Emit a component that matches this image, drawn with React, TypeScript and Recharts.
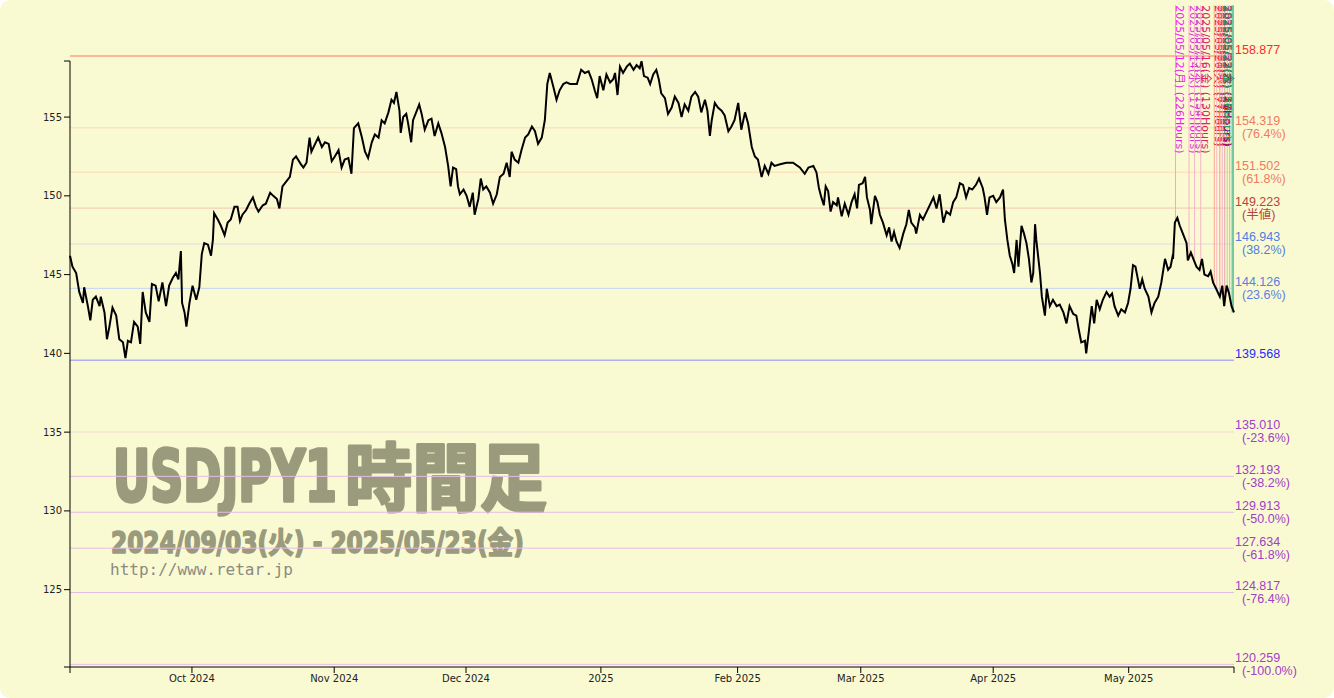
import { Line, LineChart, ReferenceLine, XAxis, YAxis } from "recharts";

type Pt = [number, number];

// USDJPY hourly closes: [trading-day index from 2024/09/03, price]
const sepOct: Pt[] = [
  [0, 146.2], [0.4, 145.5], [1.0, 145.1], [1.5, 143.9], [2.1, 143.2], [2.3, 144.2], [2.9, 143.0], [3.3, 142.1],
  [3.7, 143.4], [4.2, 143.6], [4.8, 143.0], [5.0, 143.6], [5.6, 142.6], [6.0, 140.9], [6.4, 141.7], [6.9, 142.9],
  [7.5, 142.4], [8.0, 140.9], [8.6, 140.7], [9.0, 139.7], [9.4, 140.8], [9.9, 140.7], [10.4, 142.0], [11.0, 141.7],
  [11.4, 140.6], [11.8, 143.9], [12.3, 142.6], [12.9, 142.0], [13.3, 144.4], [13.9, 144.3], [14.4, 143.3], [15.0, 144.5],
  [15.6, 143.0], [16.1, 144.3], [16.7, 144.8], [17.2, 145.1], [17.6, 144.7], [18.0, 146.5], [18.2, 143.2], [18.6, 142.6],
  [18.9, 141.7], [19.4, 143.2], [19.9, 144.3], [20.5, 143.4], [21.0, 144.2], [21.4, 146.3], [21.8, 147.0], [22.4, 146.9],
  [22.9, 146.2], [23.2, 147.2], [23.4, 148.9], [24.0, 148.5], [24.5, 148.1], [25.1, 147.5], [25.6, 148.3], [26.1, 148.5],
  [26.7, 149.3], [27.2, 149.3], [27.6, 148.4], [28.0, 148.8], [28.6, 149.1], [29.1, 149.5], [29.7, 149.9], [30.2, 149.3],
  [30.6, 149.0], [31.3, 149.4], [31.8, 149.5], [32.5, 150.2], [33.0, 150.0], [33.6, 149.8], [34.0, 149.2], [34.5, 150.6],
  [35.1, 150.9], [35.7, 151.2], [36.2, 152.3], [36.7, 152.5], [37.5, 152.0],
];

const novDec: Pt[] = [
  [37.9, 151.8], [38.4, 152.1], [38.9, 153.7], [39.2, 152.8], [39.8, 153.3], [40.3, 153.7], [40.9, 153.1], [41.4, 153.4],
  [42.0, 153.3], [42.5, 152.2], [43.0, 152.5], [43.6, 152.9], [44.1, 151.8], [44.6, 152.3], [45.2, 152.4], [45.7, 151.4],
  [46.1, 154.3], [46.8, 154.6], [47.4, 153.7], [47.9, 152.8], [48.4, 152.4], [49.0, 153.4], [49.5, 153.9], [50.1, 153.7],
  [50.6, 154.8], [51.1, 154.6], [51.7, 155.3], [52.2, 156.1], [52.6, 155.9], [53.0, 156.6], [53.5, 155.4], [53.7, 154.0],
  [54.1, 155.0], [54.6, 155.2], [54.9, 154.6], [55.4, 153.4], [55.7, 154.8], [56.3, 155.4], [56.7, 155.8], [57.1, 155.2],
  [57.6, 154.2], [58.2, 154.8], [58.7, 154.9], [59.2, 153.8], [59.8, 154.6], [60.3, 154.0], [60.9, 153.1], [61.4, 151.9],
  [61.8, 150.6], [62.2, 151.8], [62.7, 151.7], [63.0, 150.6], [63.3, 150.1], [63.9, 150.4], [64.4, 150.0], [64.9, 149.3],
  [65.4, 150.2], [65.7, 148.8], [66.3, 149.8], [66.7, 151.1], [67.1, 150.4], [67.6, 150.6], [68.2, 150.2], [68.7, 149.5],
  [69.3, 150.1], [69.8, 151.2], [70.4, 151.4], [70.9, 152.1], [71.4, 151.2], [71.7, 152.8], [72.2, 152.3], [72.8, 152.1],
  [73.3, 152.9], [73.9, 153.7], [74.4, 153.9], [75.0, 154.4], [75.5, 154.1],
];

const decJan: Pt[] = [
  [76.0, 153.3], [76.6, 153.7], [77.1, 154.8], [77.5, 157.1], [77.9, 157.8], [78.5, 156.9], [79.0, 156.1], [79.5, 156.7],
  [80.1, 157.1], [80.6, 157.2], [81.2, 157.1], [81.7, 157.1], [82.3, 157.1], [83.0, 158.0], [83.6, 157.8], [84.2, 157.9],
  [84.7, 157.4], [85.2, 156.7], [85.6, 156.2], [86.0, 157.6], [86.6, 156.7], [87.1, 157.7], [87.7, 157.2], [88.2, 157.4],
  [88.5, 157.8], [88.9, 156.4], [89.3, 158.2], [89.8, 157.8], [90.4, 158.2], [90.9, 158.4], [91.5, 158.0], [92.0, 158.3],
  [92.5, 158.1], [92.8, 158.55], [93.2, 157.6], [93.8, 157.5], [94.2, 157.1], [94.7, 157.7], [95.2, 158.0], [95.6, 157.4],
  [96.0, 156.5], [96.6, 156.2], [97.1, 155.2], [97.7, 155.6], [98.2, 156.3], [98.8, 155.9], [99.3, 155.0], [99.8, 155.8],
  [100.4, 155.4], [100.9, 156.3], [101.5, 156.6], [102.0, 156.3], [102.5, 155.3], [103.1, 156.1], [103.5, 155.4], [103.9, 153.8],
  [104.2, 154.8], [104.7, 155.9], [105.2, 155.6], [105.8, 155.4], [106.3, 155.1], [106.9, 154.1], [107.4, 154.4], [107.9, 154.8],
  [108.5, 155.9], [109.0, 154.2], [109.6, 155.3], [110.1, 154.6], [110.7, 153.1], [111.2, 152.5], [111.7, 152.3], [112.3, 151.2],
  [112.8, 151.9], [113.4, 151.4], [113.9, 152.1],
];

const febMar: Pt[] = [
  [114.4, 151.9], [115.3, 152.0], [116.3, 152.1], [117.4, 152.1], [118.5, 151.8], [119.3, 151.4], [119.9, 151.8], [120.7, 151.9],
  [121.2, 151.5], [121.6, 150.5], [122.0, 149.9], [122.4, 149.4], [122.7, 150.6], [123.1, 150.3], [123.5, 149.0], [123.9, 149.6],
  [124.5, 149.4], [124.7, 149.9], [125.3, 148.7], [125.8, 149.5], [126.4, 148.8], [126.9, 149.6], [127.4, 150.1], [127.8, 149.2],
  [128.1, 150.7], [128.7, 150.8], [129.1, 151.2], [129.4, 149.9], [129.9, 149.1], [130.1, 148.2], [130.7, 150.0], [131.1, 149.6],
  [131.5, 148.8], [132.0, 148.3], [132.6, 147.5], [133.0, 148.0], [133.4, 147.1], [133.8, 147.7], [134.2, 147.1], [134.7, 146.7],
  [135.3, 147.6], [135.8, 148.2], [136.2, 149.1], [136.6, 148.3], [137.2, 148.0], [137.4, 147.6], [138.0, 148.8], [138.5, 148.5],
  [139.1, 149.0], [139.6, 149.4], [140.2, 149.9], [140.7, 149.2], [141.2, 150.1], [141.8, 148.3], [142.3, 149.0], [142.9, 148.8],
  [143.4, 149.6], [143.9, 149.9], [144.5, 150.8], [145.0, 150.7], [145.5, 149.9], [146.0, 150.5], [146.5, 150.4], [147.1, 150.7],
  [147.6, 151.1], [148.2, 150.5], [148.5, 149.9], [148.9, 148.8], [149.3, 149.9], [149.9, 150.0], [150.4, 149.6], [151.0, 149.9],
  [151.5, 150.4],
];

const aprMay: Pt[] = [
  [151.8, 148.5], [152.2, 147.2], [152.6, 146.2], [153.0, 145.7], [153.3, 145.1], [153.7, 147.2], [154.0, 145.5], [154.2, 146.6],
  [154.5, 148.1], [154.9, 147.6], [155.3, 147.0], [155.7, 146.0], [156.1, 144.5], [156.4, 145.1], [156.7, 148.2], [156.9, 147.2],
  [157.5, 145.1], [157.8, 143.6], [158.3, 142.4], [158.6, 144.1], [159.1, 143.0], [159.6, 143.4], [160.2, 143.0], [160.7, 143.1],
  [161.3, 142.6], [161.8, 141.9], [162.3, 143.0], [162.9, 142.5], [163.4, 142.4], [163.8, 141.5], [164.2, 140.7], [164.8, 140.8],
  [165.0, 140.0], [165.4, 141.3], [165.9, 143.0], [166.3, 141.9], [166.7, 143.4], [167.2, 142.8], [167.7, 143.4], [168.3, 143.9],
  [168.8, 143.6], [169.2, 143.8], [169.6, 143.0], [170.2, 142.4], [170.7, 142.8], [171.3, 142.6], [171.8, 143.2], [172.2, 144.1],
  [172.6, 145.6], [173.0, 145.5], [173.4, 144.7], [173.7, 144.1], [174.1, 144.7], [174.5, 144.1], [175.1, 143.6], [175.6, 142.6],
  [176.1, 143.2], [176.7, 143.6], [177.2, 144.5], [177.8, 146.0], [178.3, 145.3], [178.7, 145.5], [179.0, 146.1], [179.1, 146.0],
  [179.4, 148.3], [179.8, 148.6], [180.2, 148.1], [180.7, 147.6], [181.3, 147.0], [181.5, 145.9], [182.0, 146.4], [182.4, 146.0],
  [182.9, 145.5], [183.4, 145.3], [183.8, 146.0], [184.2, 145.0], [184.8, 144.9], [185.2, 145.2], [185.6, 144.5], [186.1, 144.1],
  [186.7, 143.6], [187.1, 144.3], [187.4, 143.0], [187.8, 144.3], [188.2, 143.8], [188.6, 143.0], [189.0, 142.6],
];

const monthTicks = [19.8, 42.9, 64.3, 86.2, 108.4, 128.4, 149.9, 171.9];
const monthNames = ["Oct 2024", "Nov 2024", "Dec 2024", "2025", "Feb 2025", "Mar 2025", "Apr 2025", "May 2025"];
const priceTicks = [125, 130, 135, 140, 145, 150, 155];

const dayDomain: [number, number] = [0, 189];
const priceDomain: [number, number] = [120.09, 158.56];
const markerTop = 162.1;

// high / low and fibonacci levels
const levels = [158.877, 154.319, 151.502, 149.223, 146.943, 144.126, 139.568, 135.01, 132.193, 129.913, 127.634, 124.817, 120.259];
const levelNotes = ["", "(76.4%)", "(61.8%)", "(半値)", "(38.2%)", "(23.6%)", "", "(-23.6%)", "(-38.2%)", "(-50.0%)", "(-61.8%)", "(-76.4%)", "(-100.0%)"];
const levelStroke = ["#ffa088", "#ffd7b4", "#ffd7b4", "#f0c4b4", "#d6e0e0", "#c6d3f0", "#8a8cff", "#f0d8d6", "#e6bce6", "#e6bce6", "#e6bce6", "#e6bce6", "#e6bce6"];
const levelText = ["#ff2a2a", "#f07a62", "#f07a62", "#b84444", "#4f80e0", "#5b80e0", "#1a2cff", "#a040c8", "#a040c8", "#a040c8", "#a040c8", "#a040c8", "#a040c8"];

// time markers near the end
const markerDays = [179.5, 181.7, 182.6, 183.6, 185.8, 186.2, 186.7, 187.1, 187.5, 187.9, 188.3, 188.8];
const markerDates = ["2025/05/12(月)", "2025/05/14(水)", "2025/05/15(木)", "2025/05/16(金)", "2025/05/20(火)", "2025/05/21(水)",
  "2025/05/21(水)", "2025/05/22(木)", "2025/05/22(木)", "2025/05/22(木)", "2025/05/23(金)", "2025/05/23(金)"];
const markerHours = [226, 175, 154, 130, 77, 67, 55, 46, 36, 26, 17, 5];
const markerStroke = ["#f0a0e8", "#f8b4c8", "#f8b4c8", "#f8b4c8", "#f8a890", "#f8b4c8", "#f09898", "#f8b4c8", "#e8a0a0", "#a8d8a0", "#98d0a8", "#74c8a2"];
const markerText = ["#ee22ee", "#dd33dd", "#cc44cc", "#dd2266", "#cc2222", "#ff3333", "#aa22aa", "#dd4400", "#22aa22", "#cc0000", "#990099", "#2a9a6a"];

const data = [...sepOct, ...novDec, ...decJan, ...febMar, ...aprMay].map(([t, v]) => ({ t, v }));

function priceAt(day: number) {
  let best = data[0];
  for (const p of data) if (Math.abs(p.t - day) < Math.abs(best.t - day)) best = p;
  return best.v;
}

const labelFont = "'Liberation Sans', 'Noto Sans CJK JP', sans-serif";
const tickFont = "'DejaVu Sans', sans-serif";

const levelLabel = (i: number) => (props: any) => {
  const vb = props.viewBox ?? {};
  const x = (vb.x ?? 0) + (vb.width ?? 0) + 1;
  const y = vb.y ?? 0;
  return (
    <g>
      <text x={x} y={y - 2.5} fill={levelText[i]} fontSize={12.5} fontFamily={labelFont}>
        {levels[i].toFixed(3)}
      </text>
      {levelNotes[i] && (
        <text x={x + 7} y={y + 10.5} fill={levelText[i]} fontSize={12.5} fontFamily={labelFont}>
          {levelNotes[i]}
        </text>
      )}
    </g>
  );
};

// rotated date labels; kept inside the plot so they stay clear of the price labels
const markerLabel = (i: number) => (props: any) => {
  const vb = props.viewBox ?? {};
  const x = Math.min((vb.x ?? 0) + 1, 1224);
  const y = vb.y ?? 0;
  return (
    <text x={x} y={y} transform={`rotate(90 ${x} ${y})`} fill={markerText[i]} fontSize={11}
      fontFamily="'DejaVu Sans', 'Noto Sans CJK JP', sans-serif">
      {`${markerDates[i]} (${markerHours[i]}Hours)`}
    </text>
  );
};

function Watermark() {
  const c = "#9a9b7d";
  const cond = "'DejaVu Sans Condensed', 'DejaVu Sans', 'Noto Sans CJK JP', sans-serif";
  return (
    <svg width={1334} height={698} style={{ position: "absolute", left: 0, top: 0 }}>
      <text fill={c} stroke={c} strokeLinejoin="round" fontWeight="bold">
        <tspan x={113} y={501} strokeWidth={3.5} fontSize={72} fontFamily={cond}
          textLength={224} lengthAdjust="spacingAndGlyphs">USDJPY1</tspan>
        <tspan x={345} y={505} strokeWidth={3} fontSize={74} fontFamily="'Noto Sans CJK JP', sans-serif"
          textLength={202} lengthAdjust="spacingAndGlyphs">時間足</tspan>
      </text>
      <text x={111} y={553} fill={c} stroke={c} strokeWidth={1.6} strokeLinejoin="round" fontSize={30} fontWeight="bold"
        fontFamily={cond} textLength={413} lengthAdjust="spacingAndGlyphs">2024/09/03(火) - 2025/05/23(金)</text>
      <text x={110} y={575} fill="#8a8a80" fontSize={15} fontFamily="'DejaVu Sans Mono', monospace"
        textLength={183} lengthAdjust="spacingAndGlyphs">http://www.retar.jp</text>
    </svg>
  );
}

export default function App() {
  return (
    <div style={{ position: "relative", width: 1334, height: 698, background: "#fafad2", borderRadius: 10, overflow: "hidden" }}>
      <style>{"body{margin:0}"}</style>
      <Watermark />
      <div style={{ position: "absolute", left: 0, top: 0 }}>
        <LineChart width={1334} height={698} data={data} margin={{ top: 61, right: 100, bottom: 6, left: 20 }}>
          <XAxis dataKey="t" type="number" domain={dayDomain} ticks={[dayDomain[0], ...monthTicks, dayDomain[1]]}
            interval={0} height={25} tickSize={6}
            tickFormatter={(v: number) => { const i = monthTicks.indexOf(v); return i >= 0 ? monthNames[i] : ""; }}
            axisLine={{ stroke: "#000" }} tickLine={{ stroke: "#000" }}
            tick={{ fontSize: 10, fill: "#222", fontFamily: tickFont }} />
          <YAxis type="number" domain={priceDomain} ticks={[priceDomain[0], ...priceTicks, priceDomain[1]]}
            interval={0} width={50} tickSize={6}
            tickFormatter={(v: number) => (priceTicks.includes(v) ? String(v) : "")}
            axisLine={{ stroke: "#000" }} tickLine={{ stroke: "#000" }}
            tick={{ fontSize: 10, fill: "#222", fontFamily: tickFont }} />
          {levels.map((lv, i) => (
            <ReferenceLine key={`lv${i}`} y={lv} ifOverflow="visible" stroke={levelStroke[i]}
              strokeWidth={i === 0 ? 1.5 : 1} label={levelLabel(i)} />
          ))}
          {markerDays.map((d, i) => (
            <ReferenceLine key={`mk${i}`} ifOverflow="visible"
              segment={[{ x: d, y: markerTop }, { x: d, y: priceAt(d) }]}
              stroke={markerStroke[i]} strokeWidth={i === markerDays.length - 1 ? 2.5 : 1}
              label={markerLabel(i)} />
          ))}
          <Line dataKey="v" type="linear" stroke="#000" strokeWidth={2} dot={false} isAnimationActive={false} />
        </LineChart>
      </div>
    </div>
  );
}
